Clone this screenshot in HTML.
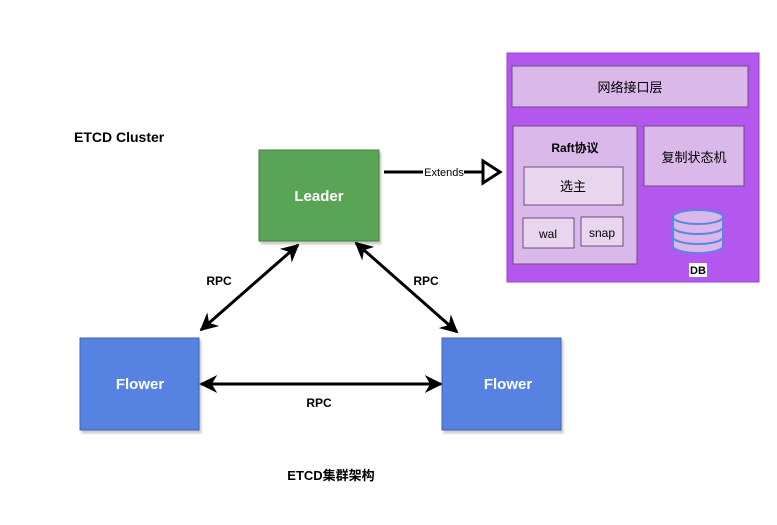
<!DOCTYPE html>
<html><head><meta charset="utf-8"><style>
html,body{margin:0;padding:0;background:#fff;}
svg{display:block;font-family:"Liberation Sans","Noto Sans CJK SC",sans-serif;}
</style></head><body>
<svg width="777" height="525" viewBox="0 0 777 525" xmlns="http://www.w3.org/2000/svg">
<defs>
<filter id="sh" x="-10%" y="-10%" width="130%" height="130%"><feDropShadow dx="2" dy="3" stdDeviation="1" flood-color="#000" flood-opacity="0.2"/></filter>
<marker id="ah" viewBox="0 0 10 10" refX="9" refY="5" markerWidth="6" markerHeight="6" orient="auto-start-reverse"><path d="M0,0 L10,5 L0,10 L3,5 Z" fill="#000"/></marker>
</defs>
<text x="74" y="142" font-size="14" font-weight="bold" fill="#000">ETCD Cluster</text>

<rect x="259" y="150" width="120" height="91" fill="#5aa457" stroke="#3f7e3c" filter="url(#sh)"/>
<text x="319" y="201" font-size="15" font-weight="bold" fill="#fff" text-anchor="middle">Leader</text>

<rect x="80" y="338" width="119" height="92" fill="#5683e2" stroke="#3c63b8" filter="url(#sh)"/>
<text x="140" y="389" font-size="15" font-weight="bold" fill="#fff" text-anchor="middle">Flower</text>
<rect x="442" y="338" width="119" height="92" fill="#5683e2" stroke="#3c63b8" filter="url(#sh)"/>
<text x="508" y="389" font-size="15" font-weight="bold" fill="#fff" text-anchor="middle">Flower</text>

<g stroke="#000" stroke-width="3" fill="none">
<line x1="298" y1="245" x2="201" y2="330" marker-start="url(#ah)" marker-end="url(#ah)"/>
<line x1="356" y1="243" x2="457" y2="332" marker-start="url(#ah)" marker-end="url(#ah)"/>
<line x1="201" y1="384" x2="441" y2="384" marker-start="url(#ah)" marker-end="url(#ah)"/>
<line x1="384" y1="172" x2="482" y2="172"/>
</g>
<rect x="423" y="165" width="41" height="14" fill="#fff"/>
<text x="444" y="176" font-size="11" fill="#000" text-anchor="middle">Extends</text>
<path d="M483,161 L500,172 L483,183 Z" fill="#fff" stroke="#000" stroke-width="3"/>
<text x="219" y="285" font-size="12" font-weight="bold" fill="#000" text-anchor="middle">RPC</text>
<text x="426" y="285" font-size="12" font-weight="bold" fill="#000" text-anchor="middle">RPC</text>
<text x="319" y="407" font-size="12" font-weight="bold" fill="#000" text-anchor="middle">RPC</text>

<rect x="507" y="53" width="252" height="229" fill="#b457ef" stroke="#9b3fd6"/>
<rect x="512" y="66" width="236" height="41" fill="#dbb8ea" stroke="#6f4b7e"/>
<text x="630" y="92" font-size="13" fill="#000" text-anchor="middle">网络接口层</text>
<rect x="513" y="126" width="124" height="138" fill="#dbb8ea" stroke="#6f4b7e"/>
<text x="575" y="152" font-size="12" font-weight="bold" fill="#000" text-anchor="middle">Raft协议</text>
<rect x="524" y="167" width="99" height="38" fill="#e8d6ee" stroke="#6f4b7e"/>
<text x="573" y="191" font-size="13" fill="#000" text-anchor="middle">选主</text>
<rect x="523" y="218" width="51" height="30" fill="#e8d6ee" stroke="#6f4b7e"/>
<text x="548" y="238" font-size="12" fill="#000" text-anchor="middle">wal</text>
<rect x="581" y="217" width="42" height="29" fill="#e8d6ee" stroke="#6f4b7e"/>
<text x="602" y="237" font-size="12" fill="#000" text-anchor="middle">snap</text>
<rect x="644" y="126" width="100" height="60" fill="#dbb8ea" stroke="#6f4b7e"/>
<text x="694" y="162" font-size="13" fill="#000" text-anchor="middle">复制状态机</text>

<g fill="#dbb8ea" stroke="#5b86e5" stroke-width="2">
<path d="M673,217 L673,246 A25,7 0 0 0 723,246 L723,217"/>
<ellipse cx="698" cy="217" rx="25" ry="7"/>
<path d="M673,227 A25,7 0 0 0 723,227" fill="none"/>
<path d="M673,237 A25,7 0 0 0 723,237" fill="none"/>
</g>
<rect x="689" y="263" width="18" height="14" fill="#fff"/>
<text x="698" y="274" font-size="11" font-weight="bold" fill="#000" text-anchor="middle">DB</text>

<text x="331" y="480" font-size="13" font-weight="bold" fill="#000" text-anchor="middle">ETCD集群架构</text>
</svg>
</body></html>
